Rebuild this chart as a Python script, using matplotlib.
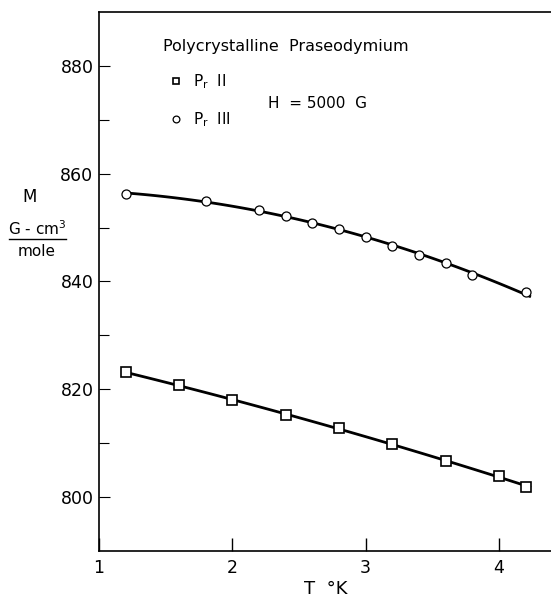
import numpy as np
import matplotlib
matplotlib.use("Agg")
import matplotlib.pyplot as plt
from matplotlib.lines import Line2D

# values
t_pr2 = [1.2, 1.6, 2.0, 2.4, 2.8, 3.2, 3.6, 4.0, 4.2]
m_pr2 = [823.1, 820.8, 817.9, 815.1, 812.8, 809.7, 806.7, 803.9, 801.8]

t_pr3 = [1.2, 1.8, 2.2, 2.4, 2.6, 2.8, 3.0, 3.2, 3.4, 3.6, 3.8, 4.2]
m_pr3 = [856.2, 855.0, 853.2, 852.1, 850.9, 849.8, 848.3, 846.6, 844.9, 843.5, 841.1, 838.0]

x_ticks = [1, 2, 3, 4]
y_ticks = [800, 820, 840, 860, 880]
y_minor = [810, 830, 850, 870]

plt.rcParams['font.family'] = ['DejaVu Sans']
plt.rcParams['mathtext.fontset'] = 'dejavusans'

W, H = 551, 597
fig = plt.figure(figsize=(W / 100, H / 100), dpi=100)
ax = fig.add_axes([99 / W, 1 - 550.5 / H, 1 - 99 / W, (550.5 - 12.3) / H])

# smooth curves through the points (least-squares fits of the data)
for t, m in [(t_pr2, m_pr2), (t_pr3, m_pr3)]:
    coef = np.polyfit(t, m, 2)
    xs = np.linspace(t[0], t[-1] + 0.03, 100)
    ax.plot(xs, np.polyval(coef, xs), color='black', lw=2.0, zorder=2)

sq, = ax.plot(t_pr2, m_pr2, ls='none', marker='s', ms=6.5, mfc='white',
              mec='black', mew=1.2, zorder=3, label='P$_\\mathrm{r}$  II')
ci, = ax.plot(t_pr3, m_pr3, ls='none', marker='o', ms=6.5, mfc='white',
              mec='black', mew=0.9, zorder=3, label='P$_\\mathrm{r}$  III')

ax.set_xlim(1, 4.39)
ax.set_ylim(790, 890)
ax.set_xticks(x_ticks)
ax.set_yticks(y_ticks)
ax.set_yticks(y_minor, minor=True)
ax.tick_params(axis='x', direction='in', length=9.5, width=1, pad=6, labelsize=12.5)
ax.tick_params(axis='y', which='major', direction='in', length=8, width=0.8,
               pad=4, labelsize=12.5)
ax.tick_params(axis='y', which='minor', direction='in', length=7, width=0.8)
ax.spines['right'].set_visible(False)
for s in ['left', 'bottom', 'top']:
    ax.spines[s].set_linewidth(1.2)

leg = ax.legend(handles=[sq, ci], loc='upper left',
                bbox_to_anchor=(168.4 / W, 1 - 72.7 / H),
                bbox_transform=fig.transFigure, frameon=False, fontsize=11,
                handlelength=1.0, handletextpad=0.6, borderpad=0,
                borderaxespad=0, labelspacing=1.25, markerscale=0.75)

fig.text(163 / W, 1 - 46.7 / H, 'Polycrystalline  Praseodymium',
         fontsize=11.5, ha='left', va='center')
fig.text(268 / W, 1 - 103 / H, 'H  = 5000  G', fontsize=11,
         ha='left', va='center')

# y label drawn as a stacked fraction
fig.text(30 / W, 1 - 196.7 / H, 'M', fontsize=12, ha='center', va='center')
fig.text(37 / W, 1 - 229 / H, 'G - cm$^3$', fontsize=11, ha='center', va='center')
fig.text(37 / W, 1 - 251 / H, 'mole', fontsize=11, ha='center', va='center')
fig.add_artist(Line2D([9 / W, 66 / W], [1 - 239 / H, 1 - 239 / H],
                      transform=fig.transFigure, color='black', lw=1))

fig.text(326 / W, 1 - 589 / H, 'T  °K', fontsize=13, ha='center', va='center')

fig.savefig('out.png', dpi=100)
